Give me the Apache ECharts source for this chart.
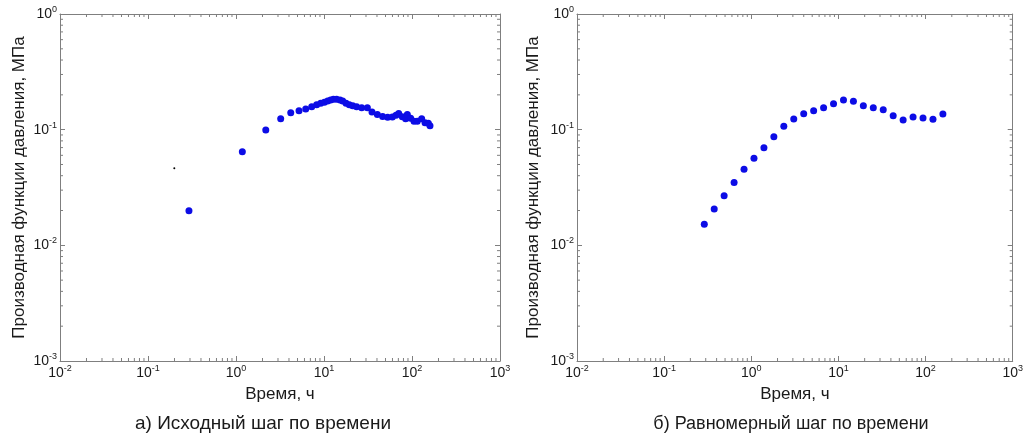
<!DOCTYPE html>
<html>
<head>
<meta charset="utf-8">
<script src="https://cdn.jsdelivr.net/npm/echarts@6/dist/echarts.min.js"></script>
<style>
html,body{margin:0;padding:0;background:#fff;}
#c{width:1026px;height:437px;}
</style>
</head>
<body>
<div id="c"></div>
<script>
// ---- data ----
const timeA = [0.292, 1.18, 2.18, 3.22, 4.19, 5.2, 6.2, 7.25, 8.25, 9.17, 10.1, 11.0, 11.9, 12.8, 13.9, 15.2, 16.3, 17.8, 19.4, 21.2, 23.5, 26.8, 31.1, 35.1, 40.4, 46.4, 52.9, 59.8, 65.8, 70.6, 77.6, 84.7, 88.5, 96.6, 105.4, 114.9, 128.8, 140.6, 153.3, 160.1];
const derivA = [0.0199, 0.0645, 0.0993, 0.124, 0.140, 0.146, 0.151, 0.158, 0.164, 0.169, 0.173, 0.177, 0.1805, 0.183, 0.183, 0.1805, 0.177, 0.169, 0.164, 0.161, 0.158, 0.155, 0.155, 0.142, 0.135, 0.130, 0.128, 0.1287, 0.133, 0.138, 0.1296, 0.1245, 0.135, 0.1253, 0.118, 0.118, 0.1245, 0.115, 0.1134, 0.1083];
const strayA = [[0.199, 0.0463]];
const timeB = [0.289, 0.3755, 0.488, 0.635, 0.826, 1.074, 1.397, 1.816, 2.362, 3.072, 3.995, 5.195, 6.756, 8.786, 11.43, 14.86, 19.32, 25.13, 32.68, 42.50, 55.27, 71.88, 93.47, 121.6, 158.1];
const derivB = [0.0152, 0.0206, 0.0269, 0.0350, 0.0454, 0.0565, 0.0699, 0.0870, 0.1069, 0.1237, 0.1375, 0.1460, 0.1549, 0.1678, 0.1805, 0.1758, 0.1612, 0.1549, 0.1489, 0.1321, 0.1213, 0.1287, 0.1261, 0.1229, 0.1366];

const xDecades = [0.01, 0.1, 1, 10, 100];
const yDecades = [0.001, 0.01, 0.1];
const minorFactors = [2, 3, 4, 5, 6, 7, 8, 9];
const xName = 'Время, ч';
const yName = 'Производная функции давления, МПа';
const captions = ['а) Исходный шаг по времени', 'б) Равномерный шаг по времени'];

// ---- build ----
const gray = '#7f7f7f';
const txt = '#1a1a1a';
const blue = '#0c0ce6';
const font = 'Arial, "Liberation Sans", sans-serif';

const xMinor = [], yMinor = [];
xDecades.forEach(d => minorFactors.forEach(f => xMinor.push([d * f, 0.01])));
yDecades.forEach(d => minorFactors.forEach(f => yMinor.push([1, d * f])));

function pow10Label(v) {
  const e = Math.round(Math.log10(v));
  return '{b|10}{s|' + e + '}';
}
const rich = {
  b: {fontSize: 14, color: txt, fontFamily: font},
  s: {fontSize: 9, color: txt, fontFamily: font, padding: [0, 0, 9, 0]}
};

const grids = [
  {left: 60, right: 526, top: 14, bottom: 76},
  {left: 577, right: 10, top: 14, bottom: 76}
];

const xAxis = [], yAxis = [], series = [];
grids.forEach((g, gi) => {
  xAxis.push({
    type: 'log', logBase: 10, gridIndex: gi, min: 0.01, max: 1000, interval: 1,
    position: 'bottom',
    axisLine: {show: true, lineStyle: {color: gray, width: 1}},
    axisTick: {show: true, inside: true, length: 5, lineStyle: {color: gray}},
    axisLabel: {formatter: pow10Label, rich: rich, margin: 3},
    splitLine: {show: false},
    name: xName, nameLocation: 'middle', nameGap: 25,
    nameTextStyle: {fontSize: 17, color: txt, fontFamily: font}
  });
  xAxis.push({
    type: 'log', logBase: 10, gridIndex: gi, min: 0.01, max: 1000, interval: 1,
    position: 'top',
    axisLine: {show: true, lineStyle: {color: gray, width: 1}},
    axisTick: {show: true, inside: true, length: 5, lineStyle: {color: gray}},
    axisLabel: {show: false}, splitLine: {show: false}
  });
  yAxis.push({
    type: 'log', logBase: 10, gridIndex: gi, min: 0.001, max: 1, interval: 1,
    position: 'left',
    axisLine: {show: true, lineStyle: {color: gray, width: 1}},
    axisTick: {show: true, inside: true, length: 5, lineStyle: {color: gray}},
    axisLabel: {formatter: pow10Label, rich: rich, margin: 3},
    splitLine: {show: false},
    name: yName, nameLocation: 'middle', nameGap: gi === 0 ? 32 : 35, nameRotate: 90,
    nameTextStyle: {fontSize: 17, color: txt, fontFamily: font}
  });
  yAxis.push({
    type: 'log', logBase: 10, gridIndex: gi, min: 0.001, max: 1, interval: 1,
    position: 'right',
    axisLine: {show: true, lineStyle: {color: gray, width: 1}},
    axisTick: {show: true, inside: true, length: 5, lineStyle: {color: gray}},
    axisLabel: {show: false}, splitLine: {show: false}
  });
  const xi = gi * 2, yi = gi * 2;
  series.push({
    type: 'custom', xAxisIndex: xi, yAxisIndex: yi, silent: true, z: 1,
    data: xMinor,
    renderItem: function (params, api) {
      const cs = params.coordSys;
      const x = api.coord([api.value(0), api.value(1)])[0];
      const st = {stroke: gray, lineWidth: 1};
      return {type: 'group', children: [
        {type: 'line', shape: {x1: x, y1: cs.y + cs.height, x2: x, y2: cs.y + cs.height - 3}, style: st},
        {type: 'line', shape: {x1: x, y1: cs.y, x2: x, y2: cs.y + 3}, style: st}
      ]};
    }
  });
  series.push({
    type: 'custom', xAxisIndex: xi, yAxisIndex: yi, silent: true, z: 1,
    data: yMinor,
    renderItem: function (params, api) {
      const cs = params.coordSys;
      const y = api.coord([api.value(0), api.value(1)])[1];
      const st = {stroke: gray, lineWidth: 1};
      return {type: 'group', children: [
        {type: 'line', shape: {x1: cs.x, y1: y, x2: cs.x + 3, y2: y}, style: st},
        {type: 'line', shape: {x1: cs.x + cs.width, y1: y, x2: cs.x + cs.width - 3, y2: y}, style: st}
      ]};
    }
  });
});

series.push({
  type: 'scatter', xAxisIndex: 0, yAxisIndex: 0, symbol: 'circle', symbolSize: 7,
  itemStyle: {color: blue, opacity: 1}, z: 5,
  data: timeA.map((t, i) => [t, derivA[i]])
});
series.push({
  type: 'scatter', xAxisIndex: 0, yAxisIndex: 0, symbol: 'circle', symbolSize: 2,
  itemStyle: {color: '#000', opacity: 1}, z: 5,
  data: strayA
});
series.push({
  type: 'scatter', xAxisIndex: 2, yAxisIndex: 2, symbol: 'circle', symbolSize: 7,
  itemStyle: {color: blue, opacity: 1}, z: 5,
  data: timeB.map((t, i) => [t, derivB[i]])
});

const chart = echarts.init(document.getElementById('c'), null, {renderer: 'canvas'});
chart.setOption({
  backgroundColor: '#fff',
  animation: false,
  grid: grids,
  xAxis: xAxis,
  yAxis: yAxis,
  series: series,
  graphic: [
    {type: 'text', x: 263, y: 424, style: {text: captions[0], fontSize: 19, fill: txt, fontFamily: font, align: 'center', verticalAlign: 'middle'}},
    {type: 'text', x: 791, y: 424, style: {text: captions[1], fontSize: 18, fill: txt, fontFamily: font, align: 'center', verticalAlign: 'middle'}}
  ]
});
</script>
</body>
</html>
